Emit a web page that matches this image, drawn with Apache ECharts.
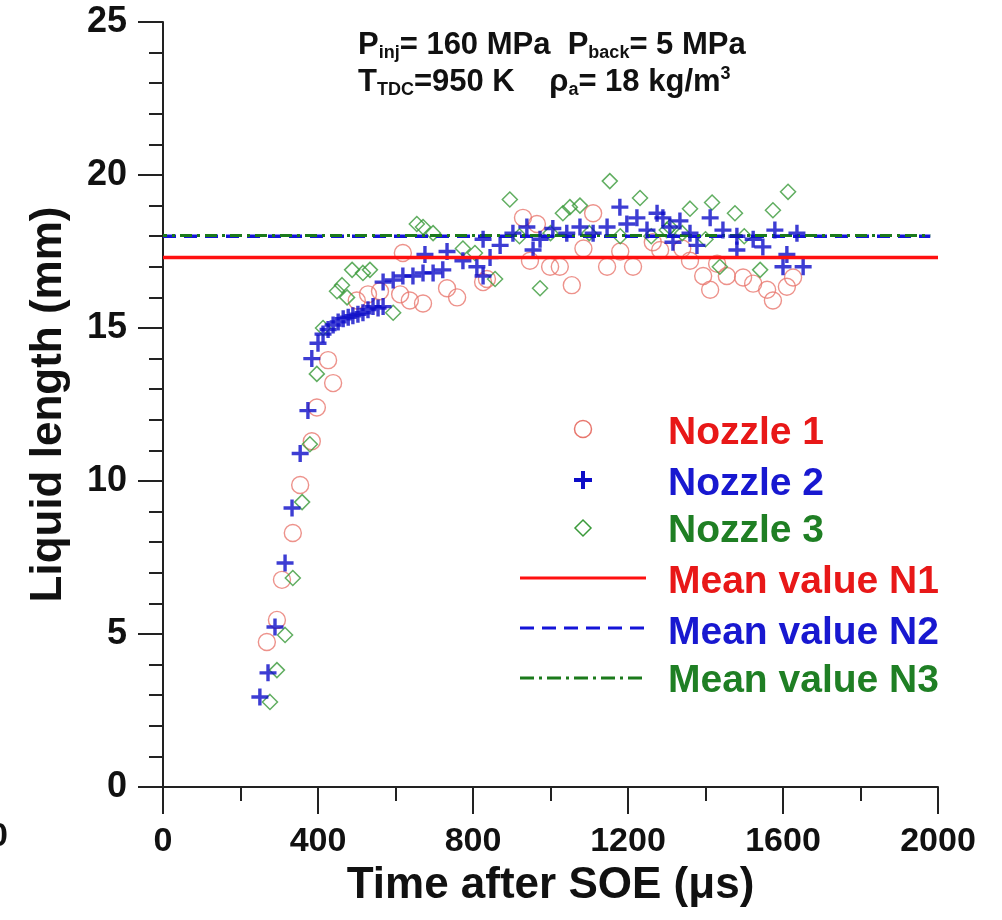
<!DOCTYPE html>
<html><head><meta charset="utf-8">
<script src="https://cdn.jsdelivr.net/npm/echarts@6/dist/echarts.min.js"></script>
<style>html,body{margin:0;padding:0;background:#fff}#c{width:1002px;height:920px}</style>
</head><body><div id="c"></div>
<script>
// ---- data (time in µs, liquid length in mm) ----
const nozzle1 = [[268,4.74],[294,5.46],[307,6.77],[335,8.3],[354,9.87],[384,11.3],[397,12.4],[439,13.2],[426,13.95],
[500,15.9],[529,16.1],[560,16.2],[612,16.1],[637,15.9],[671,15.8],[619,17.45],[733,16.3],[759,16.0],[826,16.5],[836,16.6],
[929,18.6],[965,18.4],[947,17.2],[999,17.0],[1024,17.0],[1055,16.4],[1085,17.6],[1110,18.75],[1146,17.0],[1180,17.5],[1213,17.0],
[1264,17.8],[1283,17.55],[1340,17.6],[1360,17.2],[1394,16.7],[1412,16.25],[1430,17.1],[1455,16.7],[1497,16.65],[1523,16.45],
[1559,16.25],[1574,15.9],[1610,16.35],[1626,16.65]];
const nozzle2 = [[250,2.94],[271,3.73],[289,5.23],[315,7.32],[333,9.12],[354,10.9],[374,12.3],[384,14.0],[400,14.5],[413,14.8],
[426,14.95],[439,15.1],[452,15.2],[465,15.3],[478,15.35],[490,15.4],[503,15.45],[516,15.5],[529,15.6],[542,15.7],[555,15.65],[568,15.7],
[568,16.5],[594,16.57],[619,16.7],[645,16.7],[671,16.8],[697,16.8],[722,16.9],[676,17.4],[733,17.5],[774,17.2],[810,17.0],[826,16.7],
[826,17.9],[844,17.3],[870,17.7],[903,18.1],[939,18.3],[955,17.55],[973,17.9],[1006,18.25],[1042,18.1],[1076,18.3],[1110,18.1],
[1146,18.3],[1179,18.95],[1197,18.4],[1223,18.6],[1249,18.2],[1275,18.75],[1290,18.6],[1308,18.3],[1316,17.8],[1334,18.5],[1360,18.1],
[1378,17.7],[1412,18.6],[1445,18.2],[1481,18.0],[1481,17.55],[1523,17.9],[1548,17.65],[1579,18.2],[1600,17.0],[1610,17.4],[1636,18.1],[1652,17.0]];
const nozzle3 = [[276,2.78],[294,3.82],[315,4.97],[335,6.83],[359,9.31],[379,11.2],[397,13.5],[413,15.0],[449,16.2],[462,16.4],
[475,16.0],[488,16.9],[516,16.8],[534,16.9],[594,15.5],[655,18.4],[671,18.3],[697,18.1],[774,17.6],[805,17.45],[857,16.6],[895,19.2],
[920,18.0],[973,16.3],[1000,18.1],[1032,18.75],[1050,18.95],[1076,19.0],[1100,18.1],[1153,19.8],[1180,18.0],[1231,19.25],[1260,18.0],
[1300,18.2],[1308,18.3],[1340,18.1],[1360,18.9],[1400,17.9],[1417,19.1],[1437,17.0],[1476,18.75],[1500,18.0],[1541,16.9],[1574,18.85],[1613,19.45]];
const meanN1 = [[0,17.3],[2000,17.3]];
const meanN2 = [[0,18.0],[1980,18.0]];
const meanN3 = [[0,18.02],[1980,18.02]];
const xTicks = {min:0, max:2000, interval:400};
const yTicks = {min:0, max:25, interval:5};

const FONT = 'Liberation Sans';
const plus = 'path://M4,0H6V4H10V6H6V10H4V6H0V4H4Z';
const chart = echarts.init(document.getElementById('c'));
const rich = {
  m:{fontFamily:FONT,fontWeight:'bold',fontSize:31,fill:'#111'},
  s:{fontFamily:FONT,fontWeight:'bold',fontSize:18,fill:'#111',padding:[16,0,0,0]},
  u:{fontFamily:FONT,fontWeight:'bold',fontSize:18,fill:'#111',padding:[0,0,16,0]}
};
chart.setOption({
  animation:false,
  backgroundColor:'#fff',
  grid:{left:163,right:64,top:22,bottom:133},
  xAxis:{type:'value',min:xTicks.min,max:xTicks.max,interval:xTicks.interval,
    name:'Time after SOE (\u03bcs)',nameLocation:'middle',nameGap:73,
    nameTextStyle:{fontFamily:FONT,fontWeight:'bold',fontSize:44,color:'#111'},
    axisLine:{lineStyle:{color:'#222',width:2}},
    axisTick:{length:27,lineStyle:{color:'#222',width:2}},
    minorTick:{show:true,splitNumber:2,length:14,lineStyle:{color:'#222',width:2}},
    splitLine:{show:false},
    axisLabel:{margin:38,fontFamily:FONT,fontWeight:'bold',fontSize:34,color:'#111',formatter:v=>String(v)}},
  yAxis:{type:'value',min:yTicks.min,max:yTicks.max,interval:yTicks.interval,
    name:'Liquid length (mm)',nameLocation:'middle',nameGap:92,
    nameTextStyle:{fontFamily:FONT,fontWeight:'bold',fontSize:44,color:'#111'},
    axisLine:{lineStyle:{color:'#222',width:2}},
    axisTick:{length:25,lineStyle:{color:'#222',width:2}},
    minorTick:{show:true,splitNumber:5,length:14,lineStyle:{color:'#222',width:2}},
    splitLine:{show:false},
    axisLabel:{margin:36,fontFamily:FONT,fontWeight:'bold',fontSize:36,color:'#111'}},
  series:[
    {name:'Mean value N2',type:'line',data:meanN2,symbol:'none',lineStyle:{color:'#1414d8',width:3.5,type:[13,8]},z:3},
    {name:'Mean value N3',type:'line',data:meanN3,symbol:'none',lineStyle:{color:'#1b7a1b',width:3,type:[12,5,3,5],dashOffset:8},z:3},
    {name:'Nozzle 1',type:'scatter',data:nozzle1,symbol:'circle',symbolSize:17,
      itemStyle:{color:'rgba(0,0,0,0)',borderColor:'#e8776e',borderWidth:1.4},z:2},
    {name:'Nozzle 3',type:'scatter',data:nozzle3,symbol:'diamond',symbolSize:[15,15],
      itemStyle:{color:'rgba(0,0,0,0)',borderColor:'#3a9a3a',borderWidth:1.5},z:2},
    {name:'Nozzle 2',type:'scatter',data:nozzle2,symbol:plus,symbolSize:17,
      itemStyle:{color:'#0c0cc8'},z:4},
    {name:'Mean value N1',type:'line',data:meanN1,symbol:'none',lineStyle:{color:'#ff1010',width:3.5},z:5}
  ],
  graphic:[
    {type:'text',left:358,top:30,style:{rich,text:'{m|P}{s|inj}{m|= 160 MPa  P}{s|back}{m|= 5 MPa}'}},
    {type:'text',left:358,top:65,style:{rich,text:'{m|T}{s|TDC}{m|=950 K    \u03c1}{s|a}{m|= 18 kg/m}{u|3}'}},
    {type:'text',left:-11,top:820,style:{text:'0',font:'bold 34px "Liberation Sans"',fill:'#111'}},
    // legend
    {type:'circle',shape:{cx:583,cy:429,r:8.5},style:{fill:'none',stroke:'#e8776e',lineWidth:1.5}},
    {type:'rect',shape:{x:574,y:478,width:18,height:4},style:{fill:'#0c0cc8'}},
    {type:'rect',shape:{x:581,y:471,width:4,height:18},style:{fill:'#0c0cc8'}},
    {type:'polygon',shape:{points:[[583,520],[591,528],[583,536],[575,528]]},style:{fill:'none',stroke:'#3a9a3a',lineWidth:1.5}},
    {type:'line',shape:{x1:520,y1:578,x2:646,y2:578},style:{stroke:'#ff1010',lineWidth:3}},
    {type:'line',shape:{x1:520,y1:628,x2:646,y2:628},style:{stroke:'#1414d8',lineWidth:3,lineDash:[14,8]}},
    {type:'line',shape:{x1:520,y1:678,x2:646,y2:678},style:{stroke:'#1b7a1b',lineWidth:3,lineDash:[14,5,3,5]}},
    {type:'text',left:668,top:414,style:{text:'Nozzle 1',font:'bold 39px "Liberation Sans"',fill:'#e81818'}},
    {type:'text',left:668,top:465,style:{text:'Nozzle 2',font:'bold 39px "Liberation Sans"',fill:'#1818d0'}},
    {type:'text',left:668,top:512,style:{text:'Nozzle 3',font:'bold 39px "Liberation Sans"',fill:'#1f7f24'}},
    {type:'text',left:668,top:563,style:{text:'Mean value N1',font:'bold 39px "Liberation Sans"',fill:'#e81818'}},
    {type:'text',left:668,top:614,style:{text:'Mean value N2',font:'bold 39px "Liberation Sans"',fill:'#1818d0'}},
    {type:'text',left:668,top:662,style:{text:'Mean value N3',font:'bold 39px "Liberation Sans"',fill:'#1f7f24'}}
  ]
});
</script></body></html>
